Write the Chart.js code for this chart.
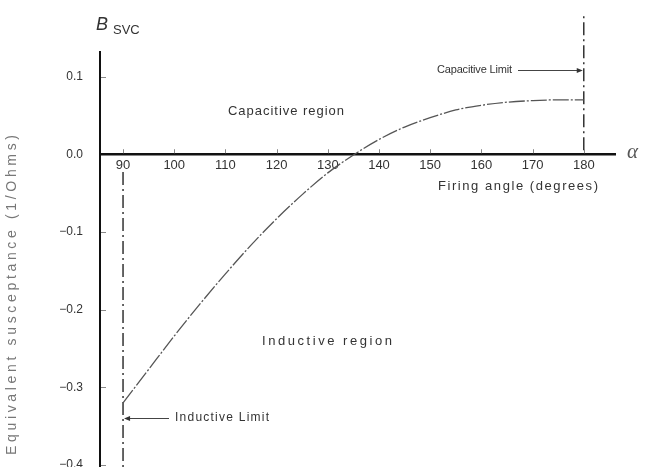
<!DOCTYPE html>
<html>
<head>
<meta charset="utf-8">
<script src="https://cdn.jsdelivr.net/npm/chart.js@4.4.1/dist/chart.umd.min.js"></script>
<style>
  html, body { margin: 0; padding: 0; background: #fff; }
  #c { display: block; }
</style>
</head>
<body>
<canvas id="c" width="645" height="467"></canvas>
<script>
// SVC equivalent susceptance versus thyristor firing angle
const FIRING_ANGLE = [90, 95, 100, 105, 110, 115, 120, 125, 130, 135, 140, 145, 150, 155, 160, 165, 170, 175, 180];
const SUSCEPTANCE  = [-0.320, -0.277, -0.234, -0.193, -0.154, -0.117, -0.083, -0.052, -0.024, -0.001,
                      0.019, 0.035, 0.047, 0.057, 0.063, 0.067, 0.069, 0.070, 0.070];

const X_TICKS = [90, 100, 110, 120, 130, 140, 150, 160, 170, 180];
const Y_TICKS = [0.1, 0.0, -0.1, -0.2, -0.3, -0.4];

// Operating limits: firing angle and the span of the marker line
const LIMIT_ANGLES = [90, 180];
const INDUCTIVE_SPAN = [-0.023, -0.403];
const CAPACITIVE_SPAN = [0.005, 0.18];

const INK = '#333';
const SANS = '"Liberation Sans", Arial, sans-serif';

function spaced(ctx, text, left, y, width) {
  ctx.letterSpacing = '0px';
  const w = ctx.measureText(text).width;
  const sp = text.length > 1 ? (width - w) / (text.length - 1) : 0;
  ctx.letterSpacing = sp + 'px';
  ctx.textAlign = 'left';
  ctx.fillText(text, left, y);
  ctx.letterSpacing = '0px';
}

function arrowHead(ctx, x, y, dir) {
  ctx.beginPath();
  ctx.moveTo(x, y);
  ctx.lineTo(x - dir * 6, y - 2.5);
  ctx.lineTo(x - dir * 6, y + 2.5);
  ctx.closePath();
  ctx.fill();
}

const decorations = {
  id: 'decorations',
  afterDraw(chart) {
    const ctx = chart.ctx;
    const xs = chart.scales.x, ys = chart.scales.y;
    const y0 = ys.getPixelForValue(0);
    const left = xs.left;
    ctx.save();

    // small inward tick marks
    ctx.strokeStyle = '#888';
    ctx.lineWidth = 1;
    X_TICKS.forEach(v => {
      const px = Math.round(xs.getPixelForValue(v)) + 0.5;
      ctx.beginPath(); ctx.moveTo(px, y0 - 1); ctx.lineTo(px, y0 - 5); ctx.stroke();
    });
    Y_TICKS.forEach(v => {
      if (v === 0) return;
      const py = Math.round(ys.getPixelForValue(v)) + 0.5;
      ctx.beginPath(); ctx.moveTo(left + 1, py); ctx.lineTo(left + 6, py); ctx.stroke();
    });

    ctx.fillStyle = INK;
    ctx.textBaseline = 'middle';

    // axis symbol B_SVC
    ctx.font = 'italic 18px ' + SANS;
    ctx.textAlign = 'left';
    ctx.fillText('B', 96, 25);
    ctx.font = '13px ' + SANS;
    ctx.fillText('SVC', 113, 30);

    // alpha at the end of the horizontal axis
    ctx.fillStyle = '#555';
    ctx.font = 'italic 21px "Liberation Serif", serif';
    ctx.fillText('\u03b1', 627, y0 - 2);

    ctx.fillStyle = INK;
    ctx.font = '13px ' + SANS;
    spaced(ctx, 'Firing angle (degrees)', 438, 186, 160);
    spaced(ctx, 'Capacitive region', 228, 111, 116);
    spaced(ctx, 'Inductive region', 262, 341, 130);

    // limit labels with arrows
    ctx.font = '11px ' + SANS;
    spaced(ctx, 'Capacitive Limit', 437, 70, 75);
    const xc = xs.getPixelForValue(LIMIT_ANGLES[1]);
    ctx.strokeStyle = '#444';
    ctx.lineWidth = 1;
    ctx.beginPath(); ctx.moveTo(518, 70.5); ctx.lineTo(xc - 4, 70.5); ctx.stroke();
    arrowHead(ctx, xc - 1, 70.5, 1);

    ctx.font = '12px ' + SANS;
    spaced(ctx, 'Inductive Limit', 175, 418, 94);
    const xi = xs.getPixelForValue(LIMIT_ANGLES[0]);
    ctx.beginPath(); ctx.moveTo(169, 418.5); ctx.lineTo(xi + 4, 418.5); ctx.stroke();
    arrowHead(ctx, xi + 1, 418.5, -1);

    // vertical axis title
    ctx.save();
    ctx.translate(12, 455);
    ctx.rotate(-Math.PI / 2);
    ctx.fillStyle = '#777';
    ctx.font = '14px ' + SANS;
    spaced(ctx, 'Equivalent susceptance (1/Ohms)', 0, 0, 320);
    ctx.restore();

    ctx.restore();
  }
};

const limitStyle = {
  borderColor: '#333',
  borderWidth: 1.5,
  borderDash: [13, 4, 2, 4],
  pointRadius: 0,
  clip: false,
  fill: false
};

new Chart(document.getElementById('c'), {
  type: 'line',
  data: {
    datasets: [
      {
        label: 'B_SVC',
        data: FIRING_ANGLE.map((a, i) => ({ x: a, y: SUSCEPTANCE[i] })),
        borderColor: '#555',
        borderWidth: 1.3,
        borderDash: [16, 2, 2, 2],
        pointRadius: 0,
        cubicInterpolationMode: 'monotone',
        fill: false
      },
      Object.assign({
        label: 'Inductive limit',
        data: INDUCTIVE_SPAN.map(b => ({ x: LIMIT_ANGLES[0], y: b }))
      }, limitStyle),
      Object.assign({
        label: 'Capacitive limit',
        data: CAPACITIVE_SPAN.map(b => ({ x: LIMIT_ANGLES[1], y: b }))
      }, limitStyle)
    ]
  },
  options: {
    responsive: false,
    animation: false,
    devicePixelRatio: 1,
    layout: { padding: { left: 0, top: 52, right: 30, bottom: 0 } },
    plugins: {
      legend: { display: false },
      tooltip: { enabled: false }
    },
    scales: {
      x: {
        type: 'linear',
        min: 85.5,
        max: 186.1,
        position: { y: 0 },
        grid: { display: false, drawTicks: false },
        border: { display: true, color: '#111', width: 2.5 },
        afterBuildTicks: s => { s.ticks = X_TICKS.map(v => ({ value: v })); },
        ticks: {
          padding: 3,
          color: INK,
          autoSkip: false,
          maxRotation: 0,
          font: { family: SANS, size: 13 },
          callback: v => String(v)
        }
      },
      y: {
        type: 'linear',
        min: -0.4026,
        max: 0.1316,
        grid: { display: false, drawTicks: false },
        border: { display: true, color: '#111', width: 2 },
        afterBuildTicks: s => { s.ticks = Y_TICKS.map(v => ({ value: v })); },
        afterFit: s => { s.width = 100; s.paddingTop = 0; s.paddingBottom = 0; },
        ticks: {
          padding: 17,
          color: INK,
          font: { family: SANS, size: 12 },
          callback: v => (v < 0 ? '\u2212' : '') + Math.abs(v).toFixed(1)
        }
      }
    }
  },
  plugins: [decorations]
});
</script>
</body>
</html>
